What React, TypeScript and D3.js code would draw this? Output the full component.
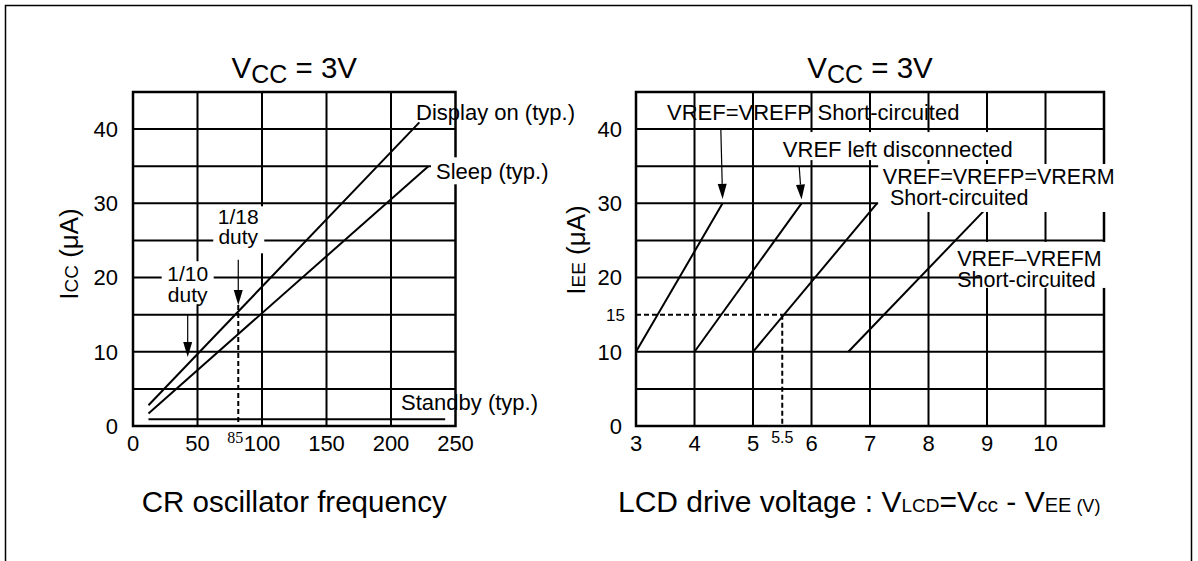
import * as d3 from 'd3';

// left chart: supply current vs CR oscillator frequency
const FREQ_GRID = [0, 50, 100, 150, 200, 250];
const FREQ_TICKS = ['0', '50', '100', '150', '200', '250'];
const CURRENT_GRID = [5, 10, 15, 20, 25, 30, 35, 40];
const CURRENT_TICKS = [0, 10, 20, 30, 40];

const displayOnFreq = [12, 222];
const displayOnIcc = [2.8, 40.9];
const sleepFreq = [12, 229];
const sleepIcc = [1.7, 35.0];
const standbyFreq = [12, 242];
const standbyIcc = [0.9, 0.9];

const DUTY18_FREQ = 81.6; // dashed marker (labelled 85)
const DUTY10_FREQ = 42.4;

// right chart: IEE vs LCD drive voltage
const VLCD_GRID = [4, 5, 6, 7, 8, 9, 10];
const VLCD_TICKS = [3, 4, 5, 6, 7, 8, 9, 10];
const IEE_TICKS = [0, 10, 20, 30, 40];
const IEE_RANGE = [10, 30];
const vrefpShort = [3, 4.48];
const vrefOpen = [4, 5.83];
const allShort = [5, 7.12];
const vrefmShort = [6.63, 9.07];
const MARK_VLCD = 5.5;
const MARK_IEE = 15;

const FONT = '"Liberation Sans", Arial, Helvetica, sans-serif';
const STROKE = '#000';

const fx = d3.scaleLinear().domain([0, 250]).range([133, 455.5]);
const fy = d3.scaleLinear().domain([0, 45]).range([426, 92]);
const vx = d3.scaleLinear().domain([3, 11]).range([636, 1104]);
const vy = d3.scaleLinear().domain([0, 45]).range([426, 92]);

const line = d3.line<[number, number]>();

function seg(xs: number[], ys: number[], sx: d3.ScaleLinear<number, number>, sy: d3.ScaleLinear<number, number>) {
  return line(xs.map((x, i) => [sx(x), sy(ys[i])] as [number, number])) || '';
}

function Arrow({ x1, y1, x2, y2 }: { x1: number; y1: number; x2: number; y2: number }) {
  const a = Math.atan2(y2 - y1, x2 - x1);
  const len = 15, w = 4.5;
  const bx = x2 - len * Math.cos(a), by = y2 - len * Math.sin(a);
  const px = -Math.sin(a) * w, py = Math.cos(a) * w;
  return (
    <g>
      <line x1={x1} y1={y1} x2={bx} y2={by} stroke={STROKE} strokeWidth={1.2} />
      <path d={`M${x2},${y2}L${bx + px},${by + py}L${bx - px},${by - py}Z`} fill={STROKE} />
    </g>
  );
}

function LeftChart() {
  const [x0, x1] = fx.range();
  const [y0, y1] = fy.range();
  return (
    <g>
      {/* grid */}
      {FREQ_GRID.slice(1, -1).map(v => (
        <line key={'gx' + v} x1={fx(v)} x2={fx(v)} y1={y0} y2={y1} stroke={STROKE} strokeWidth={2} />
      ))}
      {CURRENT_GRID.map(v => (
        <line key={'gy' + v} x1={x0} x2={x1} y1={fy(v)} y2={fy(v)} stroke={STROKE} strokeWidth={2} />
      ))}
      <rect x={x0} y={y1} width={x1 - x0} height={y0 - y1} fill="none" stroke={STROKE} strokeWidth={2.5} />

      {/* 1/18 duty dashed marker */}
      <line x1={fx(DUTY18_FREQ)} x2={fx(DUTY18_FREQ)} y1={fy(16.3)} y2={fy(0)} stroke={STROKE} strokeWidth={2} strokeDasharray="5,3" />

      {/* curves */}
      <path d={seg(displayOnFreq, displayOnIcc, fx, fy)} stroke={STROKE} strokeWidth={2} fill="none" />
      <path d={seg(sleepFreq, sleepIcc, fx, fy)} stroke={STROKE} strokeWidth={2} fill="none" />
      <path d={seg(standbyFreq, standbyIcc, fx, fy)} stroke={STROKE} strokeWidth={2} fill="none" />

      {/* annotation boxes */}
      <rect x={fx(DUTY10_FREQ) - 26} y={fy(22.2)} width={52} height={43} fill="#fff" />
      <rect x={fx(DUTY18_FREQ) - 25} y={fy(29.6)} width={51} height={47} fill="#fff" />
      <rect x={fx(231)} y={fy(36.2)} width={128} height={27} fill="#fff" />

      <g fontFamily={FONT} fontSize={21} fill={STROKE}>
        <text x={fx(DUTY10_FREQ)} y={fy(19.5)} textAnchor="middle">1/10</text>
        <text x={fx(DUTY10_FREQ)} y={fy(16.7)} textAnchor="middle">duty</text>
        <text x={fx(DUTY18_FREQ)} y={fy(27.2)} textAnchor="middle">1/18</text>
        <text x={fx(DUTY18_FREQ)} y={fy(24.5)} textAnchor="middle">duty</text>
      </g>
      <g fontFamily={FONT} fontSize={22} fill={STROKE}>
        <text x={fx(219.4)} y={fy(41.2)}>Display on (typ.)</text>
        <text x={fx(234.9)} y={fy(33.3)}>Sleep (typ.)</text>
        <text x={fx(207.8)} y={fy(2.2)}>Standby (typ.)</text>
      </g>

      <Arrow x1={fx(DUTY10_FREQ)} y1={fy(15)} x2={fx(DUTY10_FREQ)} y2={fy(9.3)} />
      <Arrow x1={fx(DUTY18_FREQ)} y1={fy(22.4)} x2={fx(DUTY18_FREQ)} y2={fy(16.3)} />

      {/* ticks */}
      <g fontFamily={FONT} fontSize={22} fill={STROKE}>
        {FREQ_GRID.map((v, i) => (
          <text key={'tx' + v} x={fx(v)} y={451} textAnchor="middle">{FREQ_TICKS[i]}</text>
        ))}
        {CURRENT_TICKS.map(v => (
          <text key={'ty' + v} x={118} y={fy(v)} dy="0.36em" textAnchor="end">{v}</text>
        ))}
      </g>
      <text x={fx(DUTY18_FREQ) - 3} y={443} textAnchor="middle" fontFamily='"Liberation Serif", "Times New Roman", serif' fontSize={16}>85</text>

      {/* titles */}
      <text x={(x0 + x1) / 2} y={78} textAnchor="middle" fontFamily={FONT} fontSize={29.5}>
        V<tspan fontSize={25} dy={5}>CC</tspan><tspan dy={-5}> = 3V</tspan>
      </text>
      <text transform={`translate(78, 254) rotate(-90)`} textAnchor="middle" fontFamily={FONT} fontSize={26}>
        I<tspan fontSize={19}>CC</tspan> (μA)
      </text>
      <text x={(x0 + x1) / 2} y={512} textAnchor="middle" fontFamily={FONT} fontSize={29.5}>CR oscillator frequency</text>
    </g>
  );
}

function RightChart() {
  const [x0, x1] = vx.range();
  const [y0, y1] = vy.range();
  const curves = [vrefpShort, vrefOpen, allShort, vrefmShort];
  return (
    <g>
      {VLCD_GRID.map(v => (
        <line key={'gx' + v} x1={vx(v)} x2={vx(v)} y1={y0} y2={y1} stroke={STROKE} strokeWidth={2} />
      ))}
      {CURRENT_GRID.filter(v => v !== MARK_IEE).map(v => (
        <line key={'gy' + v} x1={x0} x2={x1} y1={vy(v)} y2={vy(v)} stroke={STROKE} strokeWidth={2} />
      ))}
      <line x1={vx(MARK_VLCD)} x2={x1} y1={vy(MARK_IEE)} y2={vy(MARK_IEE)} stroke={STROKE} strokeWidth={2} />
      <rect x={x0} y={y1} width={x1 - x0} height={y0 - y1} fill="none" stroke={STROKE} strokeWidth={2.5} />

      {/* 15 uA / 5.5 V marker */}
      <line x1={x0} x2={vx(MARK_VLCD)} y1={vy(MARK_IEE)} y2={vy(MARK_IEE)} stroke={STROKE} strokeWidth={2} strokeDasharray="5,3" />
      <line x1={vx(MARK_VLCD)} x2={vx(MARK_VLCD)} y1={vy(MARK_IEE)} y2={y0} stroke={STROKE} strokeWidth={2} strokeDasharray="5,3" />

      {curves.map((c, i) => (
        <path key={'c' + i} d={seg(c, IEE_RANGE, vx, vy)} stroke={STROKE} strokeWidth={2} fill="none" />
      ))}

      {/* label backgrounds */}
      <rect x={vx(5.45)} y={vy(39.6)} width={244} height={28} fill="#fff" />
      <rect x={vx(7.14)} y={vy(35.3)} width={250} height={48} fill="#fff" />
      <rect x={vx(8.88)} y={vy(24.8)} width={165} height={46} fill="#fff" />

      <g fontFamily={FONT} fontSize={22} fill={STROKE}>
        <text x={vx(3.53)} y={vy(41.2)}>VREF=VREFP Short-circuited</text>
        <text x={vx(5.51)} y={vy(36.3)}>VREF left disconnected</text>
      </g>
      <g fontFamily={FONT} fontSize={21.5} fill={STROKE}>
        <text x={vx(7.22)} y={vy(32.6)}>VREF=VREFP=VRERM</text>
        <text x={vx(7.34)} y={vy(29.8)}>Short-circuited</text>
        <text x={vx(8.49)} y={vy(21.5)}>VREF–VREFM</text>
        <text x={vx(8.49)} y={vy(18.7)}>Short-circuited</text>
      </g>

      <Arrow x1={vx(4.45)} y1={vy(40)} x2={vx(4.48)} y2={vy(30.6)} />
      <Arrow x1={vx(5.79)} y1={vy(34.9)} x2={vx(5.83)} y2={vy(30.5)} />

      <g fontFamily={FONT} fontSize={22} fill={STROKE}>
        {VLCD_TICKS.map(v => (
          <text key={'tx' + v} x={vx(v)} y={451} textAnchor="middle">{v}</text>
        ))}
        {IEE_TICKS.map(v => (
          <text key={'ty' + v} x={622} y={vy(v)} dy="0.36em" textAnchor="end">{v}</text>
        ))}
      </g>
      <text x={625} y={vy(MARK_IEE)} dy="0.36em" textAnchor="end" fontFamily={FONT} fontSize={17}>{MARK_IEE}</text>
      <text x={vx(MARK_VLCD)} y={443} textAnchor="middle" fontFamily={FONT} fontSize={16}>{MARK_VLCD}</text>

      <text x={(x0 + x1) / 2} y={78} textAnchor="middle" fontFamily={FONT} fontSize={29.5}>
        V<tspan fontSize={25} dy={5}>CC</tspan><tspan dy={-5}> = 3V</tspan>
      </text>
      <text transform={`translate(585, 250) rotate(-90)`} textAnchor="middle" fontFamily={FONT} fontSize={26}>
        I<tspan fontSize={19}>EE</tspan> (μA)
      </text>
      <text x={618} y={512} fontFamily={FONT} fontSize={30}>
        LCD drive voltage : V<tspan fontSize={19}>LCD</tspan>=V<tspan fontSize={21}>cc</tspan> - V<tspan fontSize={20}>EE</tspan><tspan fontSize={18}> (V)</tspan>
      </text>
    </g>
  );
}

export default function App() {
  return (
    <svg width={1198} height={561} style={{ position: 'absolute', left: 0, top: 0, background: '#fff' }}>
      <rect width={1198} height={561} fill="#fff" />
      <path d="M5.5,561V5.5H1191.5V561" fill="none" stroke={STROKE} strokeWidth={1.5} />
      <LeftChart />
      <RightChart />
    </svg>
  );
}
